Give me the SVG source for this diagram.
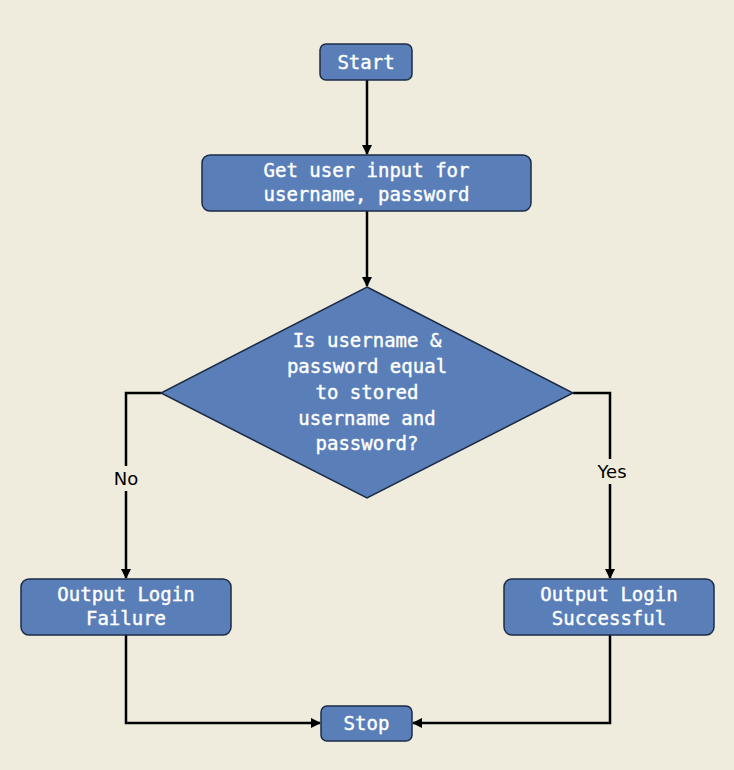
<svg xmlns="http://www.w3.org/2000/svg" width="734" height="770" viewBox="0 0 734 770">
<defs>
<style>
.node{fill:#5a7fb8;stroke:#1c2b45;stroke-width:1.5}
.t{font-family:"DejaVu Sans Mono","Liberation Mono",monospace;font-size:19px;fill:#ffffff;stroke:#ffffff;stroke-width:0.4;text-anchor:middle}
.c{fill:none;stroke:#000;stroke-width:2.5}
.lbl{font-family:"DejaVu Sans","Liberation Sans",sans-serif;font-size:18px;fill:#000;text-anchor:middle}
.lblbg{fill:#efecdd}
</style>
<marker id="arr" viewBox="0 0 10 10" refX="9" refY="5" markerWidth="4" markerHeight="4" orient="auto" markerUnits="strokeWidth">
<path d="M0,0 L10,5 L0,10 z" fill="#000"/>
</marker>
</defs>
<rect width="734" height="770" fill="#efecdd"/>
<g id="connectors">
<path class="c" d="M367,80 V154" marker-end="url(#arr)"/>
<path class="c" d="M367,211 V286" marker-end="url(#arr)"/>
<path class="c" d="M161,393 H126 V578" marker-end="url(#arr)"/>
<path class="c" d="M573,393 H610 V578" marker-end="url(#arr)"/>
<path class="c" d="M126,635 V723 H320" marker-end="url(#arr)"/>
<path class="c" d="M610,635 V723 H413" marker-end="url(#arr)"/>
<rect class="lblbg" x="110" y="466" width="32" height="25"/>
<text class="lbl" x="126" y="485">No</text>
<rect class="lblbg" x="593" y="459" width="36" height="25"/>
<text class="lbl" x="612" y="478">Yes</text>
</g>
<g id="start">
<rect class="node" x="320" y="44" width="92" height="36" rx="6"/>
<text class="t" x="366" y="69">Start</text>
</g>
<g id="input">
<rect class="node" x="202" y="155" width="329" height="56" rx="8"/>
<text class="t" x="366.5" y="177">Get user input for</text>
<text class="t" x="366.5" y="201">username, password</text>
</g>
<g id="decision">
<polygon class="node" points="367,287 573,393 367,498 161,393"/>
<text class="t" x="367" y="347">Is username &amp;</text>
<text class="t" x="367" y="373">password equal</text>
<text class="t" x="367" y="399">to stored</text>
<text class="t" x="367" y="425">username and</text>
<text class="t" x="367" y="450">password?</text>
</g>
<g id="failure">
<rect class="node" x="21" y="579" width="210" height="56" rx="8"/>
<text class="t" x="126" y="601">Output Login</text>
<text class="t" x="126" y="625">Failure</text>
</g>
<g id="success">
<rect class="node" x="504" y="579" width="210" height="56" rx="8"/>
<text class="t" x="609" y="601">Output Login</text>
<text class="t" x="609" y="625">Successful</text>
</g>
<g id="stop">
<rect class="node" x="321" y="706" width="91" height="35" rx="6"/>
<text class="t" x="366.5" y="730">Stop</text>
</g>
</svg>
